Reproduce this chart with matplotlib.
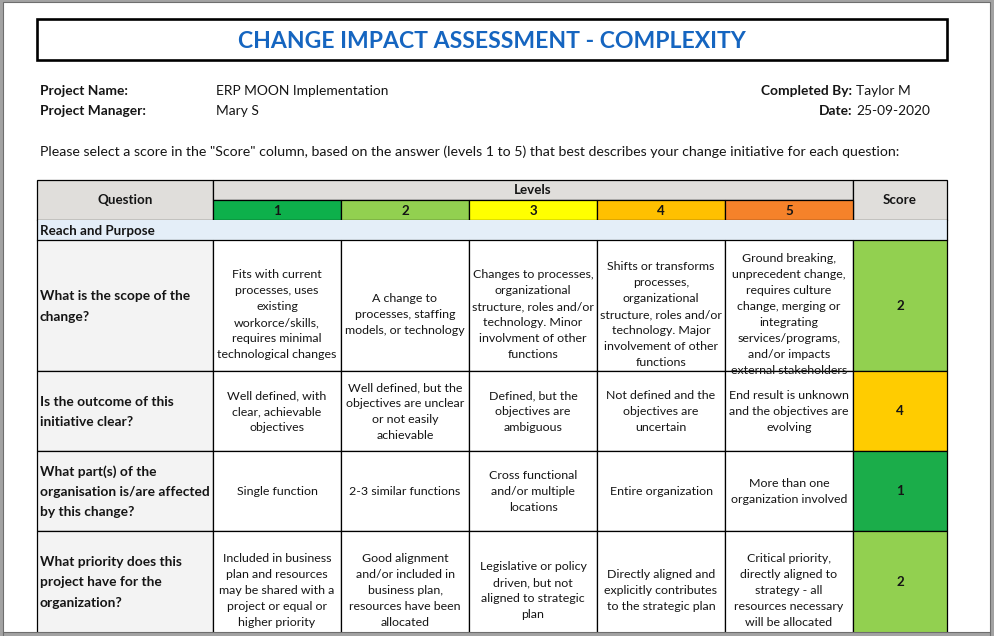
import matplotlib
matplotlib.use("Agg")
import matplotlib.pyplot as plt
from matplotlib.patches import Rectangle

plt.rcParams['font.family'] = ['Lato', 'DejaVu Sans']

# ---- content ----
title = "CHANGE IMPACT ASSESSMENT - COMPLEXITY"
info_left = [("Project Name:", "ERP MOON Implementation"),
             ("Project Manager:", "Mary S")]
info_right = [("Completed By:", "Taylor M"),
              ("Date:", "25-09-2020")]
instruction = ('Please select a score in the "Score" column, based on the answer '
               '(levels 1 to 5) that best describes your change initiative for each question:')

levels = ["1", "2", "3", "4", "5"]
level_colors = ["#0DB04B", "#92D050", "#FFFF00", "#FFC000", "#F5822A"]
section = "Reach and Purpose"

questions = [
    ["What is the scope of the", "change?"],
    ["Is the outcome of this", "initiative clear?"],
    ["What part(s) of the", "organisation is/are affected", "by this change?"],
    ["What priority does this", "project have for the", "organization?"],
]

answers = [
    [["Fits with current", "processes, uses", "existing", "workorce/skills,",
      "requires minimal", "technological changes"],
     ["A change to", "processes, staffing", "models, or technology"],
     ["Changes to processes,", "organizational", "structure, roles and/or",
      "technology. Minor", "involvment of other", "functions"],
     ["Shifts or transforms", "processes,", "organizational", "structure, roles and/or",
      "technology. Major", "involvement of other", "functions"],
     ["Ground breaking,", "unprecedent change,", "requires culture", "change, merging or",
      "integrating", "services/programs,", "and/or impacts", "external stakeholders"]],
    [["Well defined, with", "clear, achievable", "objectives"],
     ["Well defined, but the", "objectives are unclear", "or not easily", "achievable"],
     ["Defined, but the", "objectives are", "ambiguous"],
     ["Not defined and the", "objectives are", "uncertain"],
     ["End result is unknown", "and the objectives are", "evolving"]],
    [["Single function"],
     ["2-3 similar functions"],
     ["Cross functional", "and/or multiple", "locations"],
     ["Entire organization"],
     ["More than one", "organization involved"]],
    [["Included in business", "plan and resources", "may be shared with a",
      "project or equal or", "higher priority"],
     ["Good alignment", "and/or included in", "business plan,",
      "resources have been", "allocated"],
     ["Legislative or policy", "driven, but not", "aligned to strategic", "plan"],
     ["Directly aligned and", "explicitly contributes", "to the strategic plan"],
     ["Critical priority,", "directly aligned to", "strategy - all",
      "resources necessary", "will be allocated"]],
]

scores = [2, 4, 1, 2]
score_colors = {1: "#1BAD4A", 2: "#92D050", 3: "#FFFF00", 4: "#FFCC00", 5: "#F5822A"}

# ---- layout (pixel grid, y downwards) ----
W, H = 995, 636
col_edges = [37, 213, 341, 469, 597, 725, 853, 947]
head_top, head_mid, head_bot = 180, 200, 220
sec_bot = 240
row_edges = [240, 371, 451, 531, 648]
text_shift = [8.5, 0, 0, 8]

HEADER_GRAY = "#E0DEDB"
Q_GRAY = "#F3F3F3"
SECTION_BLUE = "#E4EEF8"
TXT = "#151515"
LW = 0.9

fig = plt.figure(figsize=(W / 100, H / 100), dpi=100)
ax = fig.add_axes([0, 0, 1, 1])
ax.set_xlim(0, W)
ax.set_ylim(H, 0)
ax.axis("off")


def box(x0, y0, x1, y1, fc="white", lw=LW, ec="black", z=1):
    r = Rectangle((x0, y0), x1 - x0, y1 - y0, facecolor=fc, edgecolor=ec, lw=lw, zorder=z)
    ax.add_patch(r)
    return r


def lines_text(lines, x, yc, size, spacing, ha="center", weight="normal", clip=None):
    n = len(lines)
    y0 = yc - (n - 1) * spacing / 2
    px = size * 100 / 72
    for i, s in enumerate(lines):
        t = ax.text(x, y0 + i * spacing + 0.36 * px, s, ha=ha, va="baseline",
                    fontsize=size, fontweight=weight, color=TXT, zorder=5)
        if clip is not None:
            t.set_clip_path(clip)


# title
box(37, 19, 947, 60, lw=1.9)
ax.text(492, 41, title, ha="center", va="center", fontsize=16.6,
        fontweight="bold", color="#1565C0", zorder=5)

# project info
for i, (lab, val) in enumerate(info_left):
    y = 91 + i * 20
    ax.text(40, y, lab, ha="left", va="center", fontsize=9.9, fontweight="bold", color=TXT)
    ax.text(216, y, val, ha="left", va="center", fontsize=9.9, color=TXT)
for i, (lab, val) in enumerate(info_right):
    y = 91 + i * 20
    ax.text(852, y, lab, ha="right", va="center", fontsize=9.9, fontweight="bold", color=TXT)
    ax.text(856, y, val, ha="left", va="center", fontsize=9.9, color=TXT)

ax.text(40, 152, instruction, ha="left", va="center", fontsize=10.15, color=TXT)

# header
box(col_edges[0], head_top, col_edges[1], head_bot, fc=HEADER_GRAY)
box(col_edges[1], head_top, col_edges[6], head_mid, fc=HEADER_GRAY)
box(col_edges[6], head_top, col_edges[7], head_bot, fc=HEADER_GRAY)
ax.text((col_edges[0] + col_edges[1]) / 2, 200, "Question", ha="center", va="center",
        fontsize=9.6, fontweight="bold", color=TXT, zorder=5)
ax.text((col_edges[1] + col_edges[6]) / 2, 190, "Levels", ha="center", va="center",
        fontsize=9.6, fontweight="bold", color=TXT, zorder=5)
ax.text((col_edges[6] + col_edges[7]) / 2, 200, "Score", ha="center", va="center",
        fontsize=9.6, fontweight="bold", color=TXT, zorder=5)
for j, (lv, c) in enumerate(zip(levels, level_colors)):
    box(col_edges[j + 1], head_mid, col_edges[j + 2], head_bot, fc=c)
    ax.text((col_edges[j + 1] + col_edges[j + 2]) / 2, 211, lv, ha="center", va="center",
            fontsize=9.6, fontweight="bold", color=TXT, zorder=5)

# section row
box(col_edges[0], head_bot, col_edges[7], sec_bot, fc=SECTION_BLUE, ec="none", lw=0)
ax.plot([col_edges[0], col_edges[0]], [head_bot, sec_bot], color="black", lw=LW, zorder=2)
ax.plot([col_edges[7], col_edges[7]], [head_bot, sec_bot], color="black", lw=LW, zorder=2)
ax.text(40, 231, section, ha="left", va="center", fontsize=9.6, fontweight="bold",
        color=TXT, zorder=5)

# body rows
for i, q in enumerate(questions):
    y0, y1 = row_edges[i], row_edges[i + 1]
    yc = (y0 + y1) / 2
    if i == len(questions) - 1:
        yc = (y0 + 632) / 2
    box(col_edges[0], y0, col_edges[1], y1, fc=Q_GRAY)
    lines_text(q, 40, yc, 9.9, 20.5, ha="left", weight="bold")
    for j in range(5):
        cell = box(col_edges[j + 1], y0, col_edges[j + 2], y1)
        lines_text(answers[i][j], (col_edges[j + 1] + col_edges[j + 2]) / 2,
                   yc + text_shift[i], 8.9, 16, clip=cell)
    s = scores[i]
    box(col_edges[6], y0, col_edges[7], y1, fc=score_colors[s])
    ax.text((col_edges[6] + col_edges[7]) / 2, yc, str(s), ha="center", va="center",
            fontsize=9.6, fontweight="bold", color=TXT, zorder=5)

# window frame
FRAME = "#A3A3A3"
for x0, y0, x1, y1 in [(0, 0, 3, H), (0, 0, W, 2), (990, 0, W, H), (0, 632, W, H)]:
    box(x0, y0, x1, y1, fc=FRAME, ec="none", lw=0, z=8)
ax.plot([3, 3, 990, 990], [H, 2, 2, H], color="#6E6E6E", lw=0.8, zorder=9)
ax.plot([3, 990], [632, 632], color="#6E6E6E", lw=0.8, zorder=9)

fig.savefig("out.png", dpi=100)
